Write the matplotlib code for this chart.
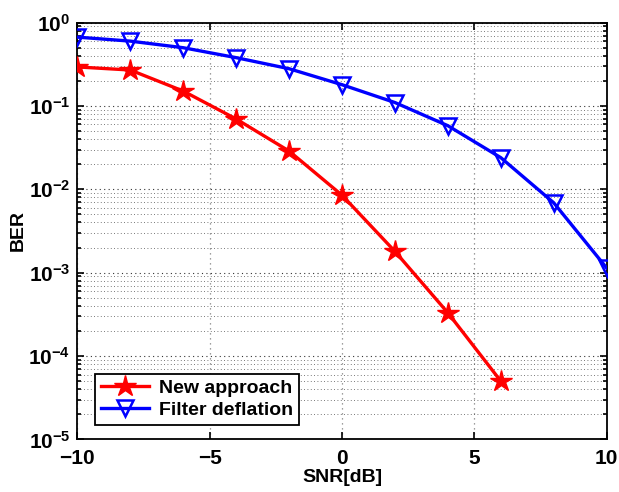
import math
import matplotlib
matplotlib.use("Agg")
import matplotlib.pyplot as plt
from matplotlib.ticker import LogLocator, FuncFormatter, FixedLocator, NullFormatter

plt.rcParams['font.family'] = ['Liberation Sans', 'DejaVu Sans']
plt.rcParams['font.weight'] = 'bold'
plt.rcParams['mathtext.fontset'] = 'custom'
plt.rcParams['mathtext.rm'] = 'Liberation Sans:bold'
plt.rcParams['mathtext.bf'] = 'Liberation Sans:bold'
plt.rcParams['mathtext.default'] = 'bf'

snr_new = [-10, -8, -6, -4, -2, 0, 2, 4, 6]
ber_new = [0.294, 0.27, 0.151, 0.0698, 0.0288, 0.0085, 0.0018, 3.3e-4, 5.0e-5]
snr_fd = [-10, -8, -6, -4, -2, 0, 2, 4, 6, 8, 10]
ber_fd = [0.67, 0.60, 0.50, 0.38, 0.28, 0.18, 0.11, 0.058, 0.024, 0.0069, 0.00114]
xticks = [-10, -5, 0, 5, 10]
labels = ['New approach', 'Filter deflation']

fig = plt.figure(figsize=(6.19, 4.92), dpi=100)
ax = fig.add_axes([0.125, 0.107, 0.855, 0.847])

ax.semilogy(snr_new, ber_new, color='red', lw=2.4, marker='*', ms=16,
            mfc='red', mec='red', label=labels[0], zorder=3)
ax.semilogy(snr_fd, ber_fd, color='blue', lw=2.4, marker='v', ms=11,
            mfc='none', mec='blue', mew=1.8, label=labels[1], zorder=3)

ax.set_xlim(-10, 10)
ax.set_ylim(1e-5, 1)
ax.xaxis.set_major_locator(FixedLocator(xticks))
ax.xaxis.set_major_formatter(FuncFormatter(lambda v, p: f"\u2212{abs(int(v))}" if v < 0 else f"{int(v)}"))
ax.yaxis.set_major_locator(LogLocator(base=10, numticks=10))
ax.yaxis.set_minor_locator(LogLocator(base=10, subs=range(2, 10), numticks=20))
ax.yaxis.set_minor_formatter(NullFormatter())
ax.yaxis.set_major_formatter(FuncFormatter(lambda v, p: r'$\mathbf{10^{%d}}$' % round(math.log10(v))))

ax.tick_params(which='both', direction='in', top=True, right=True, labelsize=15, width=1.2)
ax.tick_params(axis='x', which='major', pad=7)
ax.tick_params(axis='y', which='major', pad=5)
ax.tick_params(which='major', length=5)
ax.tick_params(which='minor', length=3)
for s in ax.spines.values():
    s.set_linewidth(1.3)

ax.grid(True, which='major', axis='x', ls=(0, (1, 3)), color='gray', lw=0.9)
ax.grid(True, which='major', axis='y', ls=(0, (1, 3)), color='0.2', lw=0.8)
ax.grid(True, which='minor', axis='y', ls=(0, (1, 3)), color='0.3', lw=0.6)

ax.set_xlabel('SNR[dB]', fontsize=14, fontweight='bold', labelpad=1)
ax.set_ylabel('BER', fontsize=14, fontweight='bold', labelpad=1)

leg = ax.legend(loc='lower left', bbox_to_anchor=(0.015, 0.012), fontsize=14, fancybox=False,
                edgecolor='black', framealpha=1, handlelength=2.5, borderpad=0.3,
                labelspacing=0.2, handletextpad=0.5)
leg.get_frame().set_linewidth(1.3)

fig.savefig('out.png', dpi=100)
